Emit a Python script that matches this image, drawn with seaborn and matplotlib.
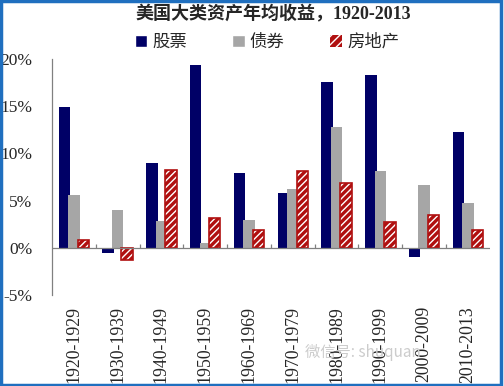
import numpy as np
import pandas as pd
import matplotlib
matplotlib.use('Agg')
import matplotlib.pyplot as plt
import seaborn as sns
from matplotlib.patches import Rectangle

# data (annual return, %)
periods = ['1920-1929', '1930-1939', '1940-1949', '1950-1959', '1960-1969',
           '1970-1979', '1980-1989', '1990-1999', '2000-2009', '2010-2013']
stocks = [14.9, -0.6, 9.0, 19.4, 7.9, 5.85, 17.55, 18.3, -1.0, 12.3]
bonds = [5.55, 4.05, 2.8, 0.5, 2.9, 6.2, 12.85, 8.1, 6.7, 4.7]
real_estate = [0.8, -1.3, 8.2, 3.1, 1.9, 8.1, 6.9, 2.75, 3.45, 1.9]
series_names = ['股票', '债券', '房地产']
yticks = [-5, 0, 5, 10, 15, 20]

navy = '#000066'
gray = '#a6a6a6'
red = '#b01010'

sns.set_style('white')
plt.rcParams['font.family'] = ['Liberation Serif', 'Noto Sans CJK SC', 'DejaVu Sans']

df = pd.DataFrame({'period': periods * 3,
                   'series': np.repeat(series_names, len(periods)),
                   'value': stocks + bonds + real_estate})

fig = plt.figure(figsize=(5.04, 3.86), dpi=100)
ax = fig.add_axes([0.103, 0.236, 0.869, 0.611])

sns.barplot(data=df, x='period', y='value', hue='series', hue_order=series_names,
            palette=[navy, gray, red], width=0.65, saturation=1, dodge=True,
            errorbar=None, legend=False, ax=ax)

# widen bars so neighbours overlap a little (Excel-style overlap)
bar_w = 0.26
n = len(periods)
for i, p in enumerate(ax.patches[:3 * n]):
    cx = p.get_x() + p.get_width() / 2
    p.set_x(cx - bar_w / 2)
    p.set_width(bar_w)
    p.set_linewidth(0)
    if i >= 2 * n:
        # hatched real estate bars: white stripes on red, red outline on top
        p.set_hatch('/////')
        p.set_edgecolor('white')
        ax.add_patch(Rectangle((p.get_x(), p.get_y()), p.get_width(), p.get_height(),
                               fill=False, edgecolor=red, linewidth=1.2, zorder=3))

ax.set_xlim(-0.5, n - 0.5)
ax.set_ylim(-5, 20)
ax.set_yticks(yticks)
ax.set_yticklabels([f'{v}%' for v in yticks], fontsize=12.5)
ax.tick_params(axis='y', direction='in', length=4, color='#808080', pad=14)
ax.tick_params(axis='x', length=0, pad=8)
ax.set_xticks(range(n))
ax.set_xticklabels(periods, rotation=90, fontsize=12.8, va='top')
ax.set_xlabel('')
ax.set_ylabel('')

for s in ['top', 'right', 'bottom']:
    ax.spines[s].set_visible(False)
ax.spines['left'].set_color('#808080')
ax.spines['left'].set_linewidth(0.9)
ax.axhline(0, color='#808080', linewidth=0.9, zorder=4)
ax.vlines(np.arange(n - 1) + 0.5, 0, 0.4, color='#808080', linewidth=0.9, zorder=4)

# title and legend
fig.text(0.542, 0.962, '美国大类资产年均收益，1920-2013', ha='center', va='center',
         fontsize=13, fontweight='bold',
         family=['Liberation Serif', 'Noto Sans CJK SC'])
handles = [Rectangle((0, 0), 1, 1, facecolor=navy),
           Rectangle((0, 0), 1, 1, facecolor=gray),
           Rectangle((0, 0), 1, 1, facecolor=red, hatch='////', edgecolor='white',
                     linewidth=0)]
fig.legend(handles, series_names, loc='center', bbox_to_anchor=(0.53, 0.892), ncol=3,
           frameon=False, handlelength=0.7, handleheight=0.7, handletextpad=0.3,
           columnspacing=2.6, prop={'family': 'Noto Sans CJK SC', 'size': 12.5})

# faint watermark
fig.text(0.72, 0.087, '微信号: shuquan', fontsize=11, color='#cccccc',
         family=['Noto Sans CJK SC', 'DejaVu Sans'], ha='center', va='center', zorder=5)

# blue frame around the picture
fig.patches.append(Rectangle((0.002, 0.003), 0.993, 0.995, transform=fig.transFigure,
                             fill=False, edgecolor='#1f6fbf', linewidth=2.5))

fig.savefig('out.png', dpi=100)
plt.close(fig)
